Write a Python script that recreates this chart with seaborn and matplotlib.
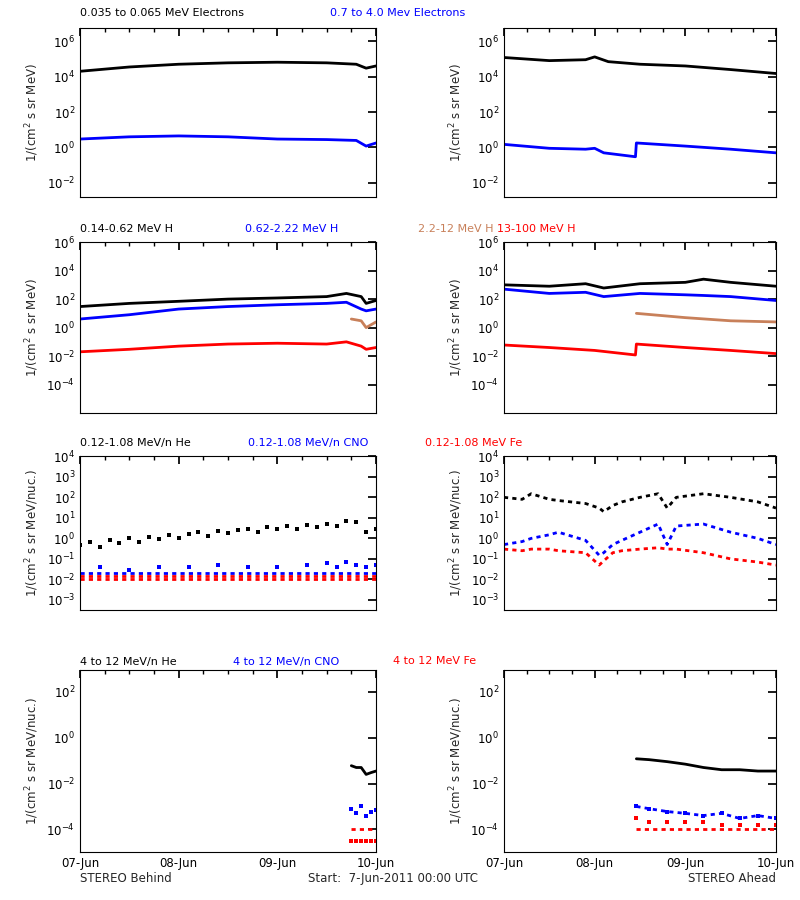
import matplotlib
matplotlib.use("Agg")
import matplotlib.pyplot as plt
import seaborn as sns
from matplotlib.ticker import FixedLocator, MultipleLocator, NullLocator

sns.set_theme(style="white")
plt.rcParams['font.family'] = ['DejaVu Sans']

BROWN = "#c8805a"

# ---- row 1: electrons ----
e_lo_L_t = [0, 0.5, 1, 1.5, 2, 2.5, 2.8, 2.9, 3]
e_lo_L = [2e4, 3.5e4, 5e4, 6e4, 6.5e4, 6e4, 5e4, 3e4, 4e4]
e_hi_L = [3, 4, 4.5, 4, 3, 2.8, 2.5, 1.2, 1.8]
e_lo_R_t = [0, 0.5, 0.9, 1.0, 1.15, 1.5, 2, 2.5, 3]
e_lo_R = [1.2e5, 8e4, 9e4, 1.3e5, 7e4, 5e4, 4e4, 2.5e4, 1.5e4]
e_hi_R_t = [0, 0.5, 0.9, 1.0, 1.1, 1.45, 1.46, 2, 2.5, 3]
e_hi_R = [1.5, 0.9, 0.8, 0.9, 0.5, 0.3, 1.8, 1.2, 0.8, 0.5]

# ---- row 2: protons ----
h_L_t = [0, 0.5, 1, 1.5, 2, 2.5, 2.7, 2.85, 2.9, 3]
h1_L = [30, 50, 70, 100, 120, 150, 250, 150, 50, 80]
h2_L = [4, 8, 20, 30, 40, 50, 60, 20, 15, 20]
h4_L = [0.02, 0.03, 0.05, 0.07, 0.08, 0.07, 0.1, 0.05, 0.03, 0.04]
h3_L_t = [2.75, 2.85, 2.9, 3]
h3_L = [4, 3, 1, 2.5]
h_R_t = [0, 0.5, 0.9, 1.1, 1.5, 2, 2.2, 2.5, 3]
h1_R = [1000, 800, 1200, 600, 1200, 1500, 2500, 1500, 800]
h2_R = [500, 250, 300, 150, 250, 200, 180, 150, 80]
h3_R_t = [1.46, 2, 2.5, 3]
h3_R = [10, 5, 3, 2.5]
h4_R_t = [0, 0.5, 1, 1.45, 1.46, 2, 2.5, 3]
h4_R = [0.06, 0.04, 0.025, 0.012, 0.07, 0.04, 0.025, 0.015]

# ---- row 3: low energy ions ----
he_L_t = [0, 0.1, 0.2, 0.3, 0.4, 0.5, 0.6, 0.7, 0.8, 0.9, 1.0, 1.1, 1.2, 1.3, 1.4,
          1.5, 1.6, 1.7, 1.8, 1.9, 2.0, 2.1, 2.2, 2.3, 2.4, 2.5, 2.6, 2.7, 2.8, 2.9, 3.0]
he_L = [0.5, 0.7, 0.4, 0.8, 0.6, 1.0, 0.7, 1.2, 0.9, 1.5, 1.1, 1.6, 2.0, 1.3, 2.2,
        1.8, 2.5, 3.0, 2.0, 3.5, 2.8, 4.0, 3.0, 4.5, 3.5, 5.0, 4.0, 7.0, 6.0, 2.0, 3.0]
cno_L_t = [0.2, 0.5, 0.8, 1.1, 1.4, 1.7, 2.0, 2.3, 2.5, 2.6, 2.7, 2.8, 2.9, 3.0]
cno_L = [0.04, 0.03, 0.04, 0.04, 0.05, 0.04, 0.04, 0.05, 0.06, 0.04, 0.07, 0.05, 0.04, 0.05]
lvl_t = [0, 0.5, 1, 1.5, 2, 2.5, 3]
cno_lvl = [0.02, 0.02, 0.02, 0.02, 0.02, 0.02, 0.02]
fe_lvl1 = [0.01, 0.01, 0.01, 0.01, 0.01, 0.01, 0.01]
fe_lvl2 = [0.015, 0.015, 0.015, 0.015, 0.015, 0.015, 0.015]
ion_R_t = [0, 0.2, 0.3, 0.5, 0.6, 0.9, 1.05, 1.1, 1.2, 1.3, 1.5, 1.7, 1.8, 1.9, 2.2, 2.5, 2.8, 3.0]
he_R = [100, 80, 150, 80, 70, 50, 30, 20, 40, 60, 100, 150, 30, 100, 150, 100, 60, 30]
cno_R = [0.5, 0.7, 1.0, 1.5, 2.0, 0.8, 0.15, 0.2, 0.5, 0.8, 2.0, 5.0, 0.5, 4.0, 5.0, 2.0, 1.0, 0.5]
fe_R = [0.3, 0.25, 0.3, 0.3, 0.25, 0.2, 0.05, 0.08, 0.2, 0.25, 0.3, 0.35, 0.3, 0.3, 0.2, 0.1, 0.07, 0.05]

# ---- row 4: high energy ions ----
he4_L_t = [2.75, 2.8, 2.85, 2.9, 2.95, 3.0]
he4_L = [0.06, 0.05, 0.05, 0.025, 0.03, 0.035]
cno4_L = [8e-4, 5e-4, 1e-3, 4e-4, 6e-4, 7e-4]
fe4_L = [1e-4, 1e-4, 1e-4, 1e-4, 1e-4, 1e-4]
fe4b_L = [3e-5, 3e-5, 3e-5, 3e-5, 3e-5, 3e-5]
he4_R_t = [1.46, 1.6, 1.8, 2.0, 2.2, 2.4, 2.6, 2.8, 3.0]
he4_R = [0.12, 0.11, 0.09, 0.07, 0.05, 0.04, 0.04, 0.035, 0.035]
cno4_R = [1e-3, 8e-4, 6e-4, 5e-4, 4e-4, 5e-4, 3e-4, 4e-4, 3e-4]
fe4_R = [1e-4, 1e-4, 1e-4, 1e-4, 1e-4, 1e-4, 1e-4, 1e-4, 1e-4]
fe4b_R = [3e-4, 2e-4, 2e-4, 2e-4, 2e-4, 1.5e-4, 1.5e-4, 1.5e-4, 1.5e-4]

day_labels = ["07-Jun", "08-Jun", "09-Jun", "10-Jun"]

fig = plt.figure(figsize=(8, 9), dpi=100)
lefts = [(0.10, 0.37), (0.63, 0.34)]
rows = [(0.781, 0.969), (0.541, 0.731), (0.322, 0.493), (0.053, 0.256)]
ylims = [(10**-2.8, 10**6.75), (1e-6, 1e6), (10**-3.5, 1e4), (1e-5, 10**2.97)]
yt = [[1e-2, 1, 1e2, 1e4, 1e6], [1e-4, 1e-2, 1, 1e2, 1e4, 1e6],
      [1e-3, 1e-2, 1e-1, 1, 1e1, 1e2, 1e3, 1e4], [1e-4, 1e-2, 1, 1e2]]
ylabs = ["1/(cm$^2$ s sr MeV)", "1/(cm$^2$ s sr MeV)",
         "1/(cm$^2$ s sr MeV/nuc.)", "1/(cm$^2$ s sr MeV/nuc.)"]

axes = {}
for r, (b, t) in enumerate(rows):
    for c, (l, w) in enumerate(lefts):
        ax = fig.add_axes([l, b, w, t - b])
        ax.set_yscale("log")
        ax.set_ylim(*ylims[r])
        ax.set_xlim(0, 3)
        ax.yaxis.set_major_locator(FixedLocator(yt[r]))
        ax.yaxis.set_minor_locator(NullLocator())
        ax.xaxis.set_major_locator(MultipleLocator(1))
        ax.xaxis.set_minor_locator(MultipleLocator(0.25))
        ax.tick_params(which="both", direction="in", top=True, right=True,
                       labelsize=8.5, colors="black")
        ax.tick_params(which="major", length=6)
        ax.tick_params(which="minor", length=3)
        if r == 3:
            ax.set_xticks([0, 1, 2, 3])
            ax.set_xticklabels(day_labels)
        else:
            ax.set_xticklabels([])
        ax.set_ylabel(ylabs[r], fontsize=8.5)
        for s in ax.spines.values():
            s.set_color("black")
            s.set_linewidth(0.8)
        axes[(r, c)] = ax

def line(ax, x, y, col):
    sns.lineplot(x=x, y=y, ax=ax, color=col, linewidth=2)

def dots(ax, x, y, col):
    sns.scatterplot(x=x, y=y, ax=ax, color=col, s=5, marker="s", linewidth=0)

def dashes(ax, x, y, col):
    sns.lineplot(x=x, y=y, ax=ax, color=col, linewidth=2, linestyle=(0, (1.5, 1.5)))

a = axes[(0, 0)]
line(a, e_lo_L_t, e_lo_L, "black"); line(a, e_lo_L_t, e_hi_L, "blue")
a = axes[(0, 1)]
line(a, e_lo_R_t, e_lo_R, "black"); line(a, e_hi_R_t, e_hi_R, "blue")

a = axes[(1, 0)]
line(a, h_L_t, h1_L, "black"); line(a, h_L_t, h2_L, "blue")
line(a, h3_L_t, h3_L, BROWN); line(a, h_L_t, h4_L, "red")
a = axes[(1, 1)]
line(a, h_R_t, h1_R, "black"); line(a, h_R_t, h2_R, "blue")
line(a, h3_R_t, h3_R, BROWN); line(a, h4_R_t, h4_R, "red")

a = axes[(2, 0)]
dots(a, he_L_t, he_L, "black"); dots(a, cno_L_t, cno_L, "blue")
dashes(a, lvl_t, cno_lvl, "blue"); dashes(a, lvl_t, fe_lvl2, "red")
dashes(a, lvl_t, fe_lvl1, "red")
a = axes[(2, 1)]
dashes(a, ion_R_t, he_R, "black")
dashes(a, ion_R_t, cno_R, "blue")
dashes(a, ion_R_t, fe_R, "red")

a = axes[(3, 0)]
line(a, he4_L_t, he4_L, "black"); dots(a, he4_L_t, cno4_L, "blue")
dashes(a, he4_L_t, fe4_L, "red"); dots(a, he4_L_t, fe4b_L, "red")
a = axes[(3, 1)]
line(a, he4_R_t, he4_R, "black"); dots(a, he4_R_t, cno4_R, "blue")
dashes(a, he4_R_t, cno4_R, "blue")
dashes(a, he4_R_t, fe4_R, "red"); dots(a, he4_R_t, fe4b_R, "red")

titles = [
    (0.985, [(80, "0.035 to 0.065 MeV Electrons", "black"), (330, "0.7 to 4.0 Mev Electrons", "blue")]),
    (0.745, [(80, "0.14-0.62 MeV H", "black"), (245, "0.62-2.22 MeV H", "blue"),
             (418, "2.2-12 MeV H", BROWN), (497, "13-100 MeV H", "red")]),
    (0.508, [(80, "0.12-1.08 MeV/n He", "black"), (248, "0.12-1.08 MeV/n CNO", "blue"),
             (425, "0.12-1.08 MeV Fe", "red")]),
    (0.265, [(80, "4 to 12 MeV/n He", "black"), (233, "4 to 12 MeV/n CNO", "blue"),
             (393, "4 to 12 MeV Fe", "red")]),
]
for y, items in titles:
    for x, txt, col in items:
        fig.text(x / 800, y, txt, color=col, fontsize=8, va="center")

fig.text(0.10, 0.02, "STEREO Behind", fontsize=8.5)
fig.text(0.385, 0.02, "Start:  7-Jun-2011 00:00 UTC", fontsize=8.5)
fig.text(0.97, 0.02, "STEREO Ahead", fontsize=8.5, ha="right")

fig.savefig("out.png", dpi=100)
